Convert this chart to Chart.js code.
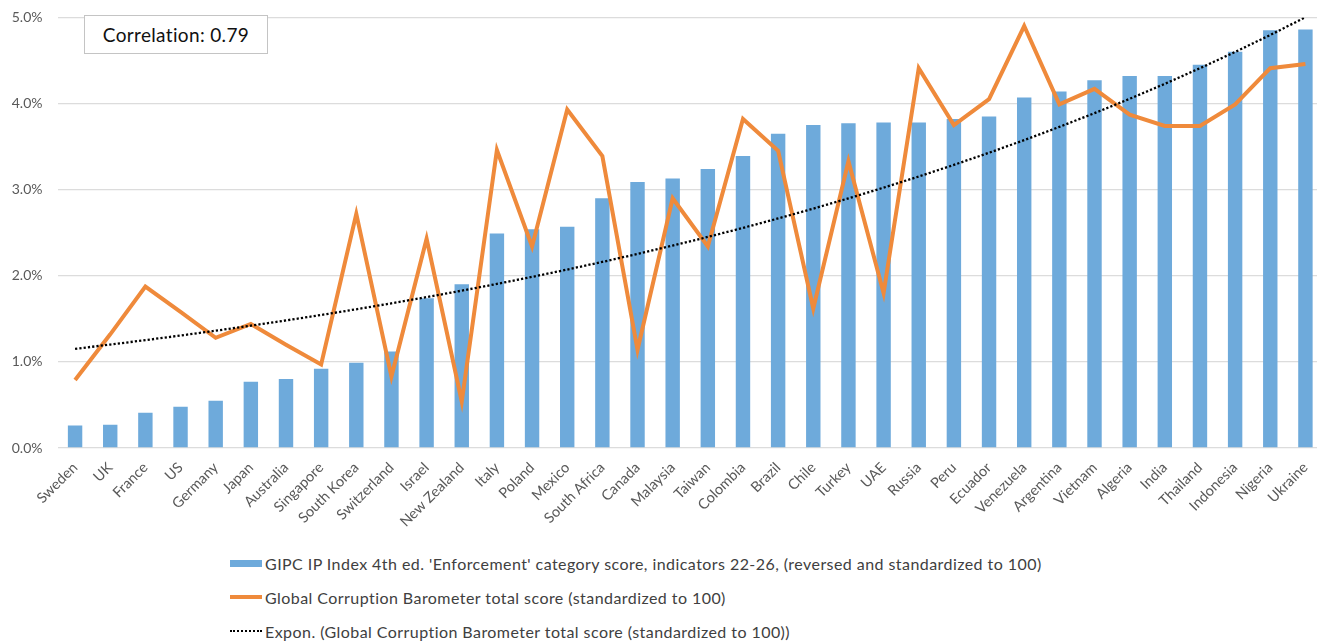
<!DOCTYPE html>
<html>
<head>
<meta charset="utf-8">
<script src="https://cdn.jsdelivr.net/npm/chart.js@4/dist/chart.umd.min.js"></script>
<style>
  html, body { margin: 0; padding: 0; background: #ffffff; overflow: hidden; }
  body { width: 1317px; height: 641px; position: relative; font-family: Lato, "Open Sans", sans-serif; }
  #wrap { position: absolute; left: 0; top: -6px; width: 1323px; height: 546px; }
  #corr {
    position: absolute; left: 84px; top: 15px; width: 184px; height: 39px;
    box-sizing: border-box; border: 1px solid #c4c4c4; background: #fff;
    font-size: 19px; letter-spacing: 0.35px; color: #111; display: flex; align-items: center; justify-content: center;
  }
  #legend { position: absolute; left: 230px; top: 550px; }
  .row { position: absolute; left: 0; height: 26px; display: flex; align-items: center; white-space: nowrap;
         font-size: 16px; letter-spacing: 0.44px; color: #404040; }
  .sw { width: 32px; height: 26px; margin-right: 3px; position: relative; }
</style>
</head>
<body>
<div id="wrap"><canvas id="c" width="1323" height="546"></canvas></div>
<div id="corr"></div>
<div id="legend"></div>
<script>
// Countries, ordered by enforcement score
const countries = ["Sweden","UK","France","US","Germany","Japan","Australia","Singapore","South Korea","Switzerland",
  "Israel","New Zealand","Italy","Poland","Mexico","South Africa","Canada","Malaysia","Taiwan","Colombia",
  "Brazil","Chile","Turkey","UAE","Russia","Peru","Ecuador","Venezuela","Argentina","Vietnam",
  "Algeria","India","Thailand","Indonesia","Nigeria","Ukraine"];

// GIPC IP Index enforcement score (percent)
const enforcementScore = [0.26,0.27,0.41,0.48,0.55,0.77,0.80,0.92,0.99,1.12,
  1.74,1.90,2.49,2.54,2.57,2.90,3.09,3.13,3.24,3.39,
  3.65,3.75,3.77,3.78,3.78,3.82,3.85,4.07,4.14,4.27,
  4.32,4.32,4.45,4.60,4.85,4.86];

// Global Corruption Barometer total score (percent)
const corruptionScore = [0.79,1.32,1.875,1.58,1.28,1.44,1.20,0.97,2.72,0.83,
  2.43,0.54,3.46,2.34,3.93,3.39,1.14,2.90,2.34,3.82,
  3.45,1.62,3.33,1.80,4.41,3.75,4.05,4.90,3.99,4.17,
  3.87,3.74,3.74,3.99,4.41,4.46];

const yTicks = [0, 1, 2, 3, 4, 5];
const correlationText = "Correlation: 0.79";

const seriesLabels = [
  "GIPC IP Index 4th ed. 'Enforcement' category score, indicators 22-26, (reversed and standardized to 100)",
  "Global Corruption Barometer total score (standardized to 100)",
  "Expon. (Global Corruption Barometer total score (standardized to 100))"
];

// Exponential least-squares trend (y = a·e^(b·x), x = 1..n) of the corruption series
function expTrend(values) {
  const n = values.length;
  const xs = values.map((_, i) => i + 1);
  const ls = values.map(v => Math.log(v));
  const mx = xs.reduce((s, v) => s + v, 0) / n;
  const ml = ls.reduce((s, v) => s + v, 0) / n;
  let sxy = 0, sxx = 0;
  for (let i = 0; i < n; i++) { sxy += (xs[i] - mx) * (ls[i] - ml); sxx += (xs[i] - mx) ** 2; }
  const b = sxy / sxx, lnA = ml - b * mx;
  return xs.map(x => Math.exp(lnA + b * x));
}
const corruptionTrend = expTrend(corruptionScore);

const BLUE = '#6eaadb', ORANGE = '#ef8a3b', TEXT = '#595959';
const FONT = 'Lato, "Open Sans", sans-serif';

new Chart(document.getElementById('c'), {
  data: {
    labels: countries,
    datasets: [
      { type: 'bar', label: seriesLabels[0], data: enforcementScore, backgroundColor: BLUE,
        barPercentage: 0.41, categoryPercentage: 1.0, order: 3 },
      { type: 'line', label: seriesLabels[1], data: corruptionScore, borderColor: ORANGE, borderWidth: 4,
        pointRadius: 0, tension: 0, borderJoinStyle: 'miter', fill: false, order: 2 },
      { type: 'line', label: seriesLabels[2], data: corruptionTrend, borderColor: '#000', borderWidth: 2.3,
        borderDash: [2.2, 2.1], pointRadius: 0, tension: 0, fill: false, order: 1 }
    ]
  },
  options: {
    responsive: false, animation: false, devicePixelRatio: 1,
    layout: { padding: { top: 2, right: 0, bottom: 0, left: 0 } },
    plugins: { legend: { display: false }, tooltip: { enabled: false } },
    scales: {
      x: {
        grid: { display: false }, border: { display: false },
        ticks: { color: TEXT, font: { family: FONT, size: 14.5 }, maxRotation: 45, minRotation: 45, padding: 3, autoSkip: false },
        afterFit: s => { s.height = 92; }
      },
      y: {
        min: 0, max: 5,
        afterBuildTicks: s => { s.ticks = yTicks.map(v => ({ value: v })); },
        grid: { color: '#dcdcdc', lineWidth: 1.3, drawTicks: false }, border: { display: false },
        ticks: { color: TEXT, font: { family: FONT, size: 14 }, padding: 15, callback: v => v.toFixed(1) + '%' },
        afterFit: s => { s.width = 57.5; }
      }
    }
  }
});

document.getElementById('corr').textContent = correlationText;

// Legend rows beneath the chart
const legend = document.getElementById('legend');
const swatches = [
  '<div style="position:absolute;left:0;top:10px;width:32px;height:7px;background:' + BLUE + '"></div>',
  '<div style="position:absolute;left:0;top:11px;width:32px;height:4px;background:' + ORANGE + '"></div>',
  '<div style="position:absolute;left:0;top:12px;width:32px;height:0;border-top:2px dotted #000"></div>'
];
const rowTops = [0, 34, 68];
seriesLabels.forEach((lab, i) => {
  const row = document.createElement('div');
  row.className = 'row';
  row.style.top = rowTops[i] + 'px';
  row.innerHTML = '<div class="sw">' + swatches[i] + '</div><span></span>';
  row.querySelector('span').textContent = lab;
  legend.appendChild(row);
});
</script>
</body>
</html>
